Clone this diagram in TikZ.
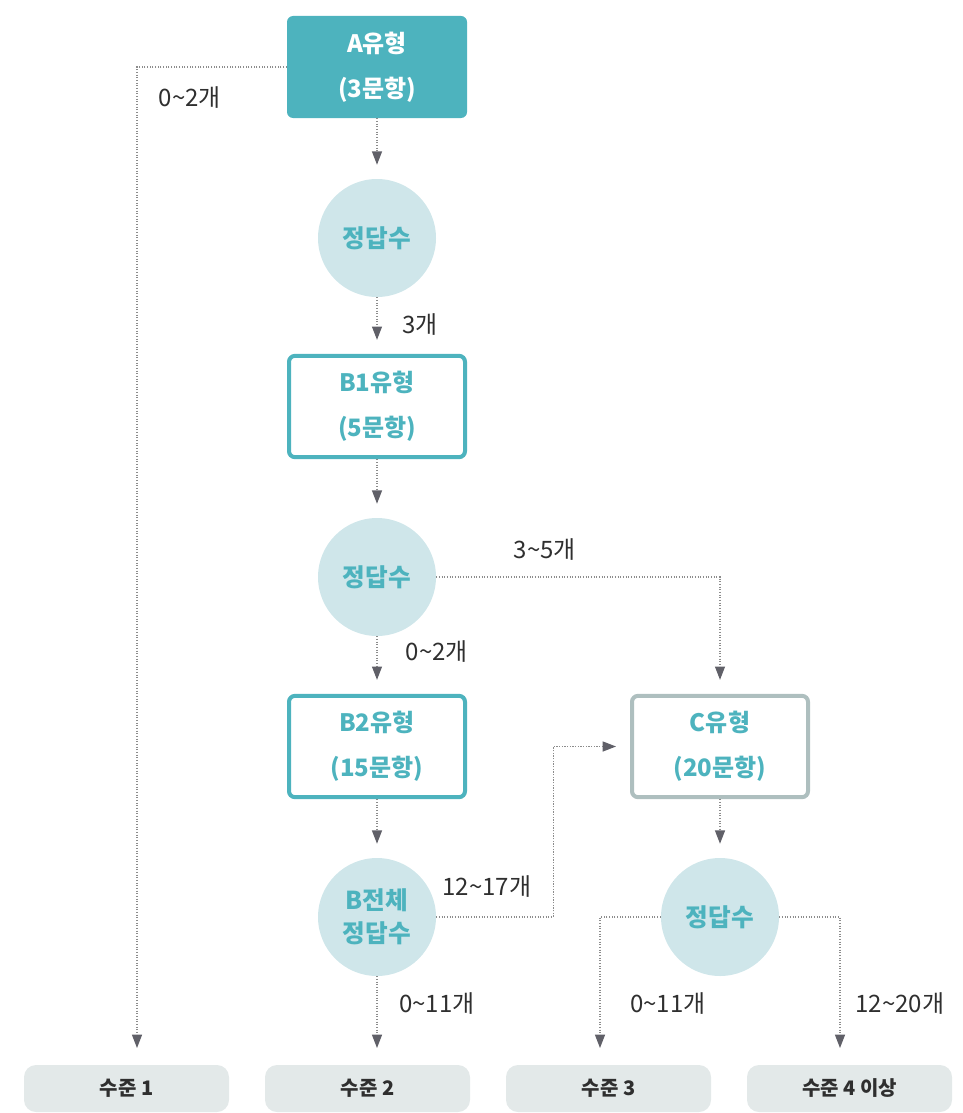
\documentclass[tikz,border=0pt]{standalone}
\usepackage{fontspec}
\setmainfont{Noto Sans CJK KR}
\usetikzlibrary{arrows.meta}

\definecolor{teal-main}{HTML}{4DB3BE}
\definecolor{circle-fill}{HTML}{CFE6EA}
\definecolor{gray-border}{HTML}{AEBFBF}
\definecolor{level-fill}{HTML}{E3E9E9}
\definecolor{label-text}{HTML}{2F2F2F}
\definecolor{line-gray}{HTML}{8C8C8C}
\definecolor{tip-gray}{HTML}{606068}

\begin{document}
\begin{tikzpicture}[x=0.75pt, y=-0.75pt,
	type-box/.style={rectangle, rounded corners=4.5pt, minimum width=132pt, minimum height=76pt, align=center, font=\fontsize{18}{34}\selectfont\bfseries, inner sep=0pt},
	score-circle/.style={circle, fill=circle-fill, minimum size=88.5pt, align=center, text=teal-main, font=\fontsize{18.5}{25}\selectfont\bfseries, inner sep=0pt},
	level-box/.style={rectangle, rounded corners=9pt, fill=level-fill, minimum width=153.75pt, minimum height=35.25pt, font=\fontsize{15}{17}\selectfont\bfseries, text=label-text},
	count-label/.style={font=\fontsize{18}{20}\selectfont, text=label-text},
	conn/.style={line-gray, line width=0.9pt, dash pattern=on 0.9pt off 1.1pt, shorten >=10.5pt, -{Triangle[width=7.5pt, length=10pt, color=tip-gray, fill=tip-gray]}}]
				\useasboundingbox (0,0) rectangle (963,1113);

				\node[type-box, fill=teal-main, text=white, minimum width=135pt, minimum height=76.5pt] at (377, 67) (a-type) {A유형\\(3문항)};
				\node[score-circle] at (377, 238) (a-score) {정답수};
				\node[type-box, draw=teal-main, line width=3pt, text=teal-main] at (377, 406.5) (b1-type) {B1유형\\(5문항)};
				\node[score-circle] at (377, 577) (b1-score) {정답수};
				\node[type-box, draw=teal-main, line width=3pt, text=teal-main] at (377, 746.5) (b2-type) {B2유형\\(15문항)};
				\node[score-circle] at (377, 917) (b-total-score) {B전체\\정답수};
				\node[type-box, draw=gray-border, line width=3pt, text=teal-main] at (720, 746.5) (c-type) {C유형\\(20문항)};
				\node[score-circle] at (720, 917) (c-score) {정답수};

				\node[level-box] at (126.5, 1088.5) (level-1) {수준 1};
				\node[level-box] at (367.5, 1088.5) (level-2) {수준 2};
				\node[level-box] at (608.5, 1088.5) (level-3) {수준 3};
				\node[level-box] at (849.5, 1088.5) (level-4) {수준 4 이상};

				% arrow ends above the level boxes
				\coordinate (to-level-1) at (137, 1062);
				\coordinate (to-level-2) at (377, 1062);
				\coordinate (to-level-3) at (600, 1062);
				\coordinate (to-level-4) at (840, 1062);

				\node[count-label] at (190, 98) {0\textasciitilde2개};
				\node[count-label] at (420, 325) {3개};
				\node[count-label] at (545, 550) {3\textasciitilde5개};
				\node[count-label] at (437, 652) {0\textasciitilde2개};
				\node[count-label] at (487, 887) {12\textasciitilde17개};
				\node[count-label] at (437, 1003) {0\textasciitilde11개};
				\node[count-label] at (668, 1003) {0\textasciitilde11개};
				\node[count-label] at (900, 1003) {12\textasciitilde20개};

				\draw[conn] (a-type.west) -| (to-level-1);
				\draw[conn] (a-type.south) -- (a-score.north);
				\draw[conn] (a-score.south) -- (b1-type.north);
				\draw[conn] (b1-type.south) -- (b1-score.north);
				\draw[conn] (b1-score.east) -| (c-type.north);
				\draw[conn] (b1-score.south) -- (b2-type.north);
				\draw[conn] (b2-type.south) -- (b-total-score.north);
				\draw[conn] (b-total-score.east) -- ++(117, 0) |- (c-type.west);
				\draw[conn] (b-total-score.south) -- (to-level-2);
				\draw[conn] (c-type.south) -- (c-score.north);
				\draw[conn] (c-score.west) -| (to-level-3);
				\draw[conn] (c-score.east) -| (to-level-4);
			\end{tikzpicture}
\end{document}
